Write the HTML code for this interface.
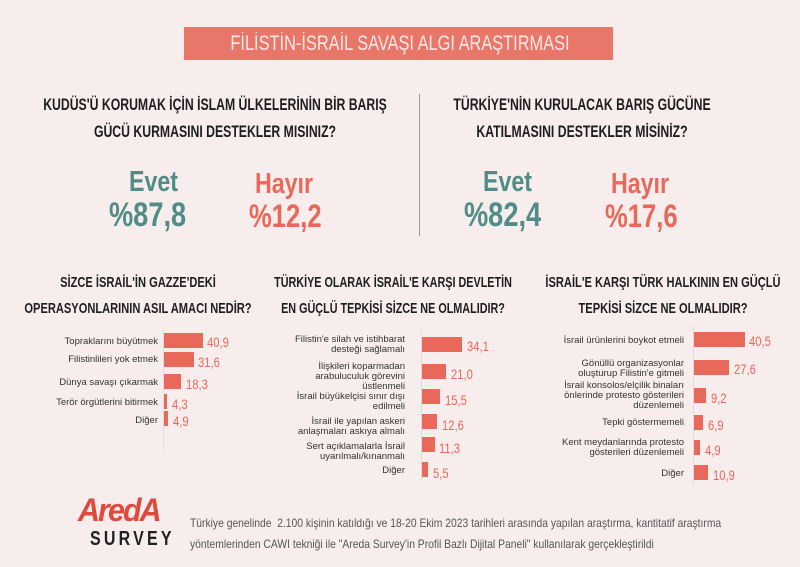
<!DOCTYPE html>
<html><head><meta charset="utf-8"><style>
body{margin:0;width:800px;height:567px;background:#f8eded;position:relative;overflow:hidden;font-family:"Liberation Sans",sans-serif}
.a{position:absolute}
.h{position:absolute;font-weight:bold;color:#1e1e1e;text-align:center;white-space:nowrap;transform:scaleX(0.72);transform-origin:center top}
.n{position:absolute;font-weight:bold;white-space:nowrap;transform:scaleX(0.8);transform-origin:left top}
.lab{position:absolute;text-align:right;font-size:9.5px;color:#333;line-height:10px;white-space:nowrap}
.bar{position:absolute;background:#e8685a;height:15px}
.val{position:absolute;font-size:14px;color:#e8685a;transform:scaleX(0.8);transform-origin:left top}
.ax{position:absolute;width:1px;background:#ddd}
</style></head><body>
<div class="a" style="left:184px;top:27px;width:429px;height:33px;background:#e8776a"></div>
<div class="h" style="left:100px;top:31px;width:600px;font-size:21px;line-height:26px;color:#fbe9e6;font-weight:normal;transform:scaleX(0.78)">FİLİSTİN-İSRAİL SAVAŞI ALGI ARAŞTIRMASI</div>
<div class="a" style="left:419px;top:94px;width:1px;height:142px;background:#999"></div>
<div class="h" style="left:-35px;top:91px;width:500px;font-size:17px;line-height:27px">KUDÜS'Ü KORUMAK İÇİN İSLAM ÜLKELERİNİN BİR BARIŞ<br>GÜCÜ KURMASINI DESTEKLER MISINIZ?</div>
<div class="h" style="left:332px;top:91px;width:500px;font-size:17px;line-height:27px">TÜRKİYE'NİN KURULACAK BARIŞ GÜCÜNE<br>KATILMASINI DESTEKLER MİSİNİZ?</div>
<div class="n" style="left:129px;top:166px;font-size:29px;color:#4f8d86">Evet</div>
<div class="n" style="left:109px;top:196px;font-size:34px;color:#4f8d86">%87,8</div>
<div class="n" style="left:255px;top:168px;font-size:29px;color:#e8685a">Hayır</div>
<div class="n" style="left:249px;top:198px;font-size:32px;color:#e8685a">%12,2</div>
<div class="n" style="left:483px;top:166px;font-size:29px;color:#4f8d86">Evet</div>
<div class="n" style="left:464px;top:196px;font-size:34px;color:#4f8d86">%82,4</div>
<div class="n" style="left:611px;top:168px;font-size:29px;color:#e8685a">Hayır</div>
<div class="n" style="left:605px;top:198px;font-size:32px;color:#e8685a">%17,6</div>

<div class="h" style="left:-62px;top:270px;width:400px;font-size:15px;line-height:26px;transform:scaleX(0.74)">SİZCE İSRAİL'İN GAZZE'DEKİ<br>OPERASYONLARININ ASIL AMACI NEDİR?</div>
<div class="h" style="left:193px;top:270px;width:400px;font-size:15px;line-height:26px;transform:scaleX(0.72)">TÜRKİYE OLARAK İSRAİL'E KARŞI DEVLETİN<br>EN GÜÇLÜ TEPKİSİ SİZCE NE OLMALIDIR?</div>
<div class="h" style="left:463px;top:270px;width:400px;font-size:15px;line-height:26px;transform:scaleX(0.74)">İSRAİL'E KARŞI TÜRK HALKININ EN GÜÇLÜ<br>TEPKİSİ SİZCE NE OLMALIDIR?</div>

<!-- chart 1 -->
<div class="ax" style="left:163px;top:330px;height:120px"></div>
<div class="lab" style="right:642px;top:337px">Topraklarını büyütmek</div><div class="bar" style="left:164px;top:333px;width:39px"></div><div class="val" style="left:207px;top:334px">40,9</div>
<div class="lab" style="right:642px;top:355px">Filistinlileri yok etmek</div><div class="bar" style="left:164px;top:352px;width:30px"></div><div class="val" style="left:198px;top:354px">31,6</div>
<div class="lab" style="right:642px;top:378px">Dünya savaşı çıkarmak</div><div class="bar" style="left:164px;top:374px;width:17px"></div><div class="val" style="left:186px;top:376px">18,3</div>
<div class="lab" style="right:642px;top:398px">Terör örgütlerini bitirmek</div><div class="bar" style="left:164px;top:394px;width:3px"></div><div class="val" style="left:172px;top:396px">4,3</div>
<div class="lab" style="right:642px;top:416px">Diğer</div><div class="bar" style="left:164px;top:411px;width:4px"></div><div class="val" style="left:173px;top:413px">4,9</div>

<!-- chart 2 -->
<div class="ax" style="left:421px;top:330px;height:150px"></div>
<div class="lab" style="right:395px;top:335px">Filistin'e silah ve istihbarat<br>desteği sağlamalı</div><div class="bar" style="left:422px;top:337px;width:40px"></div><div class="val" style="left:467px;top:338px">34,1</div>
<div class="lab" style="right:395px;top:362px">İlişkileri koparmadan<br>arabuluculuk görevini<br>üstlenmeli</div><div class="bar" style="left:422px;top:364px;width:24px"></div><div class="val" style="left:451px;top:366px">21,0</div>
<div class="lab" style="right:395px;top:392px">İsrail büyükelçisi sınır dışı<br>edilmeli</div><div class="bar" style="left:422px;top:389px;width:18px"></div><div class="val" style="left:445px;top:392px">15,5</div>
<div class="lab" style="right:395px;top:417px">İsrail ile yapılan askeri<br>anlaşmaları askıya almalı</div><div class="bar" style="left:422px;top:414px;width:15px"></div><div class="val" style="left:442px;top:417px">12,6</div>
<div class="lab" style="right:395px;top:442px">Sert açıklamalarla İsrail<br>uyarılmalı/kınanmalı</div><div class="bar" style="left:422px;top:437px;width:13px"></div><div class="val" style="left:439px;top:440px">11,3</div>
<div class="lab" style="right:395px;top:466px">Diğer</div><div class="bar" style="left:422px;top:462px;width:6px"></div><div class="val" style="left:433px;top:465px">5,5</div>

<!-- chart 3 -->
<div class="ax" style="left:693px;top:325px;height:160px"></div>
<div class="lab" style="right:116px;top:336px">İsrail ürünlerini boykot etmeli</div><div class="bar" style="left:694px;top:332px;width:51px"></div><div class="val" style="left:749px;top:333px">40,5</div>
<div class="lab" style="right:116px;top:359px">Gönüllü organizasyonlar<br>oluşturup Filistin'e gitmeli</div><div class="bar" style="left:694px;top:360px;width:35px"></div><div class="val" style="left:734px;top:361px">27,6</div>
<div class="lab" style="right:116px;top:381px">İsrail konsolos/elçilik binaları<br>önlerinde protesto gösterileri<br>düzenlemeli</div><div class="bar" style="left:694px;top:388px;width:12px"></div><div class="val" style="left:711px;top:390px">9,2</div>
<div class="lab" style="right:116px;top:418px">Tepki göstermemeli</div><div class="bar" style="left:694px;top:415px;width:9px"></div><div class="val" style="left:708px;top:417px">6,9</div>
<div class="lab" style="right:116px;top:438px">Kent meydanlarında protesto<br>gösterileri düzenlemeli</div><div class="bar" style="left:694px;top:440px;width:6px"></div><div class="val" style="left:705px;top:442px">4,9</div>
<div class="lab" style="right:116px;top:469px">Diğer</div><div class="bar" style="left:694px;top:465px;width:14px"></div><div class="val" style="left:713px;top:467px">10,9</div>

<!-- footer -->
<div class="n" style="left:78px;top:492px;font-size:32px;color:#e04a3c;letter-spacing:-2px;font-style:italic;transform:scaleX(0.95)">AredA</div>
<div class="n" style="left:90px;top:528px;font-size:20px;color:#222;letter-spacing:4px;transform:scaleX(0.8)">SURVEY</div>
<div class="a" style="left:190px;top:513px;font-size:12px;line-height:21px;color:#555;white-space:nowrap;transform:scaleX(0.86);transform-origin:left top">Türkiye genelinde&nbsp; 2.100 kişinin katıldığı ve 18-20 Ekim 2023 tarihleri arasında yapılan araştırma, kantitatif araştırma<br>yöntemlerinden CAWI tekniği ile "Areda Survey'in Profil Bazlı Dijital Paneli" kullanılarak gerçekleştirildi</div>
</body></html>
